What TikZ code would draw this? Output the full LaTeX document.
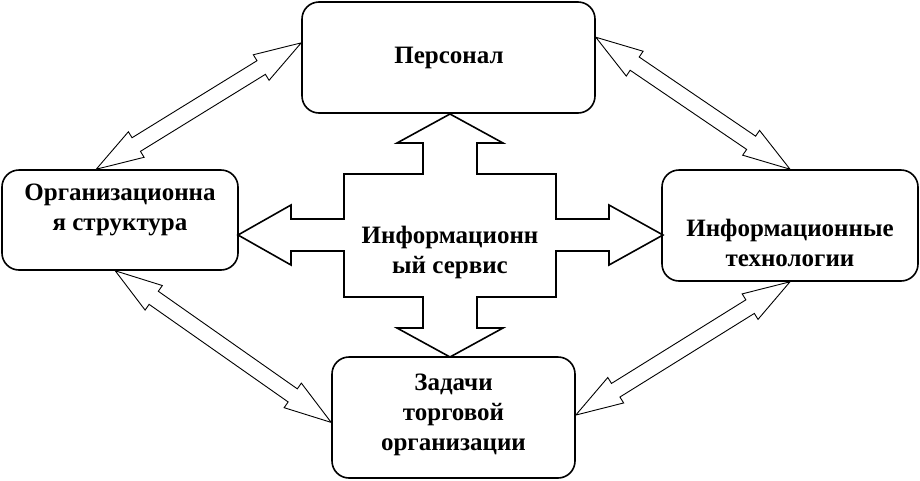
\documentclass[tikz,border=0pt]{standalone}
\usepackage{fontspec}
\setmainfont{Liberation Serif}
\usetikzlibrary{calc}

\tikzset{
  block/.style={draw=black, line width=1.6pt, rounded corners=17pt, inner sep=0pt},
  lbl/.style={align=center, inner sep=0pt, font=\bfseries\fontsize{25}{30}\selectfont},
  twoway/.style={draw=black, line width=0.9pt, fill=white, line join=miter},
  crossarrow/.style={draw=black, line width=1.6pt, fill=white, line join=miter}
}

% double outline arrow between two points
\newcommand{\twoway}[2]{%
  \coordinate (ha) at ($(#1)!47pt!(#2)$);
  \coordinate (hb) at ($(#2)!47pt!(#1)$);
  \draw[twoway] (#1) -- ($(ha)!15pt!90:(#2)$) -- ($(ha)!8pt!90:(#2)$)
    -- ($(hb)!8pt!-90:(#1)$) -- ($(hb)!15pt!-90:(#1)$) -- (#2)
    -- ($(hb)!15pt!90:(#1)$) -- ($(hb)!8pt!90:(#1)$)
    -- ($(ha)!8pt!-90:(#2)$) -- ($(ha)!15pt!-90:(#2)$) -- cycle;}

\begin{document}
\begin{tikzpicture}[x=1pt, y=-1pt]
\useasboundingbox (0,0) rectangle (920,480);

\node[block, minimum width=293pt, minimum height=111pt] (pers) at (448.5,57.5) {};
\node[block, minimum width=236pt, minimum height=100pt] (org) at (120,220) {};
\node[block, minimum width=256pt, minimum height=111pt] (info) at (790,225.5) {};
\node[block, minimum width=243pt, minimum height=121pt] (tasks) at (453.5,417.5) {};

\node[lbl] (perstext) at (449,58) {Персонал};
\node[lbl] (orgtext) at (120,210) {Организационна\\я структура};
\node[lbl] (infotext) at (790,243) {Информационные\\технологии};
\node[lbl] (taskstext) at (453.5,415) {Задачи\\торговой\\организации};

% central cross
\coordinate (srv) at (450,235);
\draw[crossarrow, shift={(srv)}] (0,-121) -- (53,-92) -- (27,-92) -- (27,-61)
  -- (106,-61) -- (106,-16) -- (159,-16) -- (159,-30) -- (213,0)
  -- (159,30) -- (159,16) -- (106,16) -- (106,62) -- (27,62) -- (27,93)
  -- (53,93) -- (0,122) -- (-53,93) -- (-27,93) -- (-27,62) -- (-106,62)
  -- (-106,16) -- (-159,16) -- (-159,30) -- (-212,0) -- (-159,-30)
  -- (-159,-16) -- (-106,-16) -- (-106,-61) -- (-27,-61) -- (-27,-92)
  -- (-53,-92) -- cycle;
\node[lbl] (srvtext) at (450,252) {Информационн\\ый сервис};

% end points of the double arrows
\coordinate (orgup) at ($(org.north west)!0.40!(org.north east)$);
\coordinate (orgdown) at ($(org.south west)!0.48!(org.south east)$);
\coordinate (persleft) at ($(pers.north west)!0.37!(pers.south west)$);
\coordinate (persright) at ($(pers.north east)!0.32!(pers.south east)$);
\coordinate (tasksleft) at ($(tasks.north west)!0.54!(tasks.south west)$);
\coordinate (tasksright) at ($(tasks.north east)!0.48!(tasks.south east)$);

\twoway{orgup}{persleft}
\twoway{persright}{info.north}
\twoway{orgdown}{tasksleft}
\twoway{tasksright}{info.south}
\end{tikzpicture}
\end{document}
